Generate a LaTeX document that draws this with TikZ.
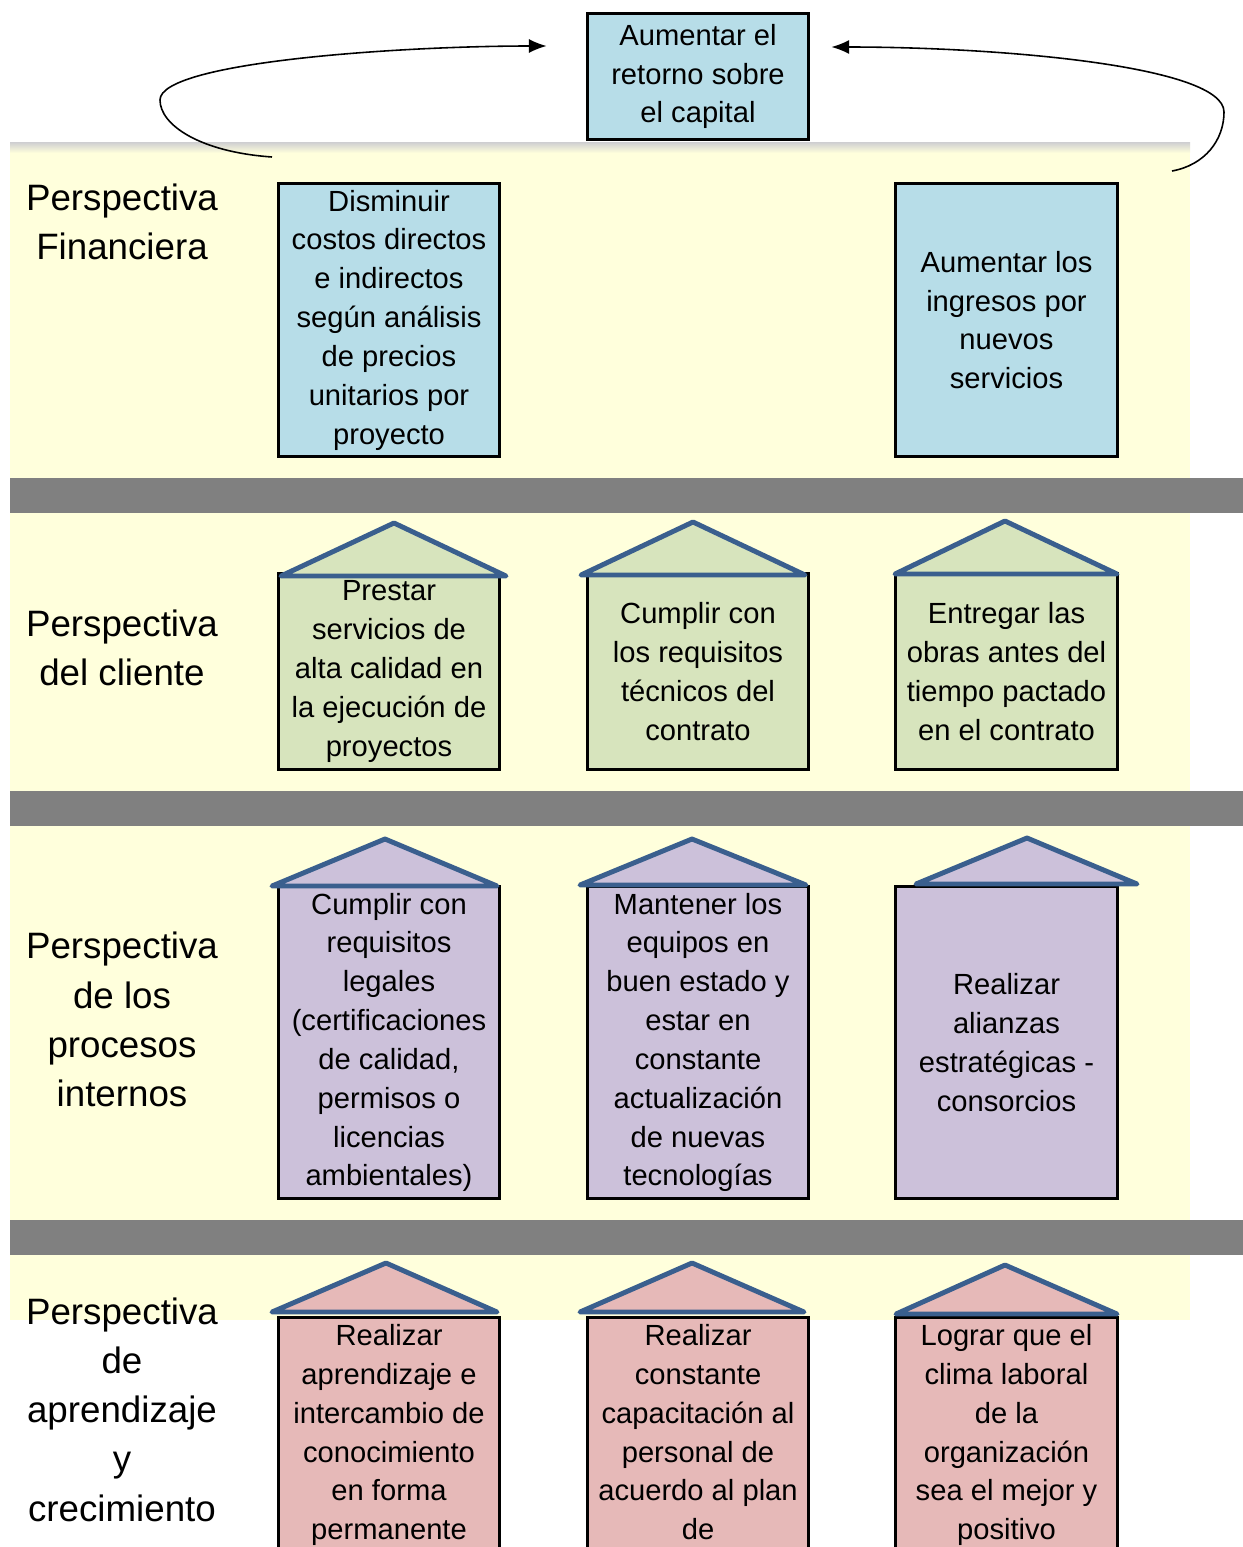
\documentclass[tikz,border=0pt]{standalone}
\usepackage{fontspec}
\setmainfont{Liberation Sans}
\usetikzlibrary{arrows.meta}
\definecolor{finblue}{HTML}{B7DDE8}
\definecolor{cliegreen}{HTML}{D7E4BD}
\definecolor{intpurple}{HTML}{CCC1DA}
\definecolor{aprpink}{HTML}{E6B9B8}
\definecolor{roofblue}{HTML}{3A5F8E}
\definecolor{bgyellow}{HTML}{FFFFDC}
\definecolor{bargray}{HTML}{808080}
\tikzset{
  objbox/.style={draw, line width=1.7pt, minimum width=4.44cm, inner sep=0pt,
    align=center, font=\fontsize{16.6}{22.1}\selectfont},
  roof/.style={draw=roofblue, line width=2.8pt, line join=round, line cap=round},
  persp/.style={align=center, font=\fontsize{20.9}{28}\selectfont},
  flecha/.style={-{Latex[length=10pt,width=8pt]}, line width=0.9pt},
}

\begin{document}
\begin{tikzpicture}[x=0.02cm, y=-0.02cm]
    \clip (0,0) rectangle (1243,1547);
    \fill[white] (0,0) rectangle (1243,1547);
    % fondo y barras
    \fill[bgyellow] (10,145) rectangle (1190,1320);
    \shade[top color=gray!35, bottom color=bgyellow] (10,143) rectangle (1190,153);
    \fill[bargray] (10,478) rectangle (1243,513);
    \fill[bargray] (10,791) rectangle (1243,826);
    \fill[bargray] (10,1220) rectangle (1243,1255);

    \node[objbox, fill=finblue, minimum height=2.54cm] (retorno) at (698,76.5) {Aumentar el\\retorno sobre\\el capital};

    % financiera
    \node[persp] (pfin) at (122,221.5) {Perspectiva\\Financiera};
    \node[objbox, fill=finblue, minimum height=5.48cm] (costos) at (389,320) {Disminuir\\costos directos\\e indirectos\\según análisis\\de precios\\unitarios por\\proyecto};
    \node[objbox, fill=finblue, minimum height=5.48cm] (ingresos) at (1006.5,320) {Aumentar los\\ingresos por\\nuevos\\servicios};

    % cliente
    \node[persp] (pcli) at (122,648) {Perspectiva\\del cliente};
    \node[objbox, fill=cliegreen, minimum height=3.94cm] (prestar) at (389,671.5) {Prestar\\servicios de\\alta calidad en\\la ejecución de\\proyectos};
    \node[objbox, fill=cliegreen, minimum height=3.94cm] (cumplir) at (698,671.5) {Cumplir con\\los requisitos\\técnicos del\\contrato};
    \node[objbox, fill=cliegreen, minimum height=3.94cm] (entregar) at (1006.5,671.5) {Entregar las\\obras antes del\\tiempo pactado\\en el contrato};
    \draw[roof, fill=cliegreen] (281,576) -- (394,523) -- (506,576) -- cycle;
    \draw[roof, fill=cliegreen] (581,575) -- (693,522) -- (805,575) -- cycle;
    \draw[roof, fill=cliegreen] (895,574) -- (1005,521) -- (1117,574) -- cycle;

    % procesos internos
    \node[persp] (pint) at (122,1019.5) {Perspectiva\\de los\\procesos\\internos};
    \node[objbox, fill=intpurple, minimum height=6.26cm] (legales) at (389,1042.5) {Cumplir con\\requisitos\\legales\\(certificaciones\\de calidad,\\permisos o\\licencias\\ambientales)};
    \node[objbox, fill=intpurple, minimum height=6.26cm] (equipos) at (698,1042.5) {Mantener los\\equipos en\\buen estado y\\estar en\\constante\\actualización\\de nuevas\\tecnologías};
    \node[objbox, fill=intpurple, minimum height=6.26cm] (alianzas) at (1006.5,1042.5) {Realizar\\alianzas\\estratégicas -\\consorcios};
    \draw[roof, fill=intpurple] (272,886) -- (385,839) -- (497,886) -- cycle;
    \draw[roof, fill=intpurple] (580,885) -- (692,839) -- (806,885) -- cycle;
    \draw[roof, fill=intpurple] (916,884) -- (1027,838) -- (1137,884) -- cycle;

    % aprendizaje
    \node[persp] (papr) at (122,1409.5) {Perspectiva\\de\\aprendizaje\\y\\crecimiento};
    \node[objbox, fill=aprpink, anchor=north, inner ysep=4pt, text depth=4cm] (aprender) at (389,1316) {Realizar\\aprendizaje e\\intercambio de\\conocimiento\\en forma\\permanente};
    \node[objbox, fill=aprpink, anchor=north, inner ysep=4pt, text depth=4cm] (capacitar) at (698,1316) {Realizar\\constante\\capacitación al\\personal de\\acuerdo al plan\\de};
    \node[objbox, fill=aprpink, anchor=north, inner ysep=4pt, text depth=4cm] (clima) at (1006.5,1316) {Lograr que el\\clima laboral\\de la\\organización\\sea el mejor y\\positivo};
    \draw[roof, fill=aprpink] (272,1312) -- (386,1263) -- (497,1312) -- cycle;
    \draw[roof, fill=aprpink] (580,1312) -- (692,1263) -- (804,1312) -- cycle;
    \draw[roof, fill=aprpink] (896,1314) -- (1005,1265) -- (1117,1314) -- cycle;

    % flechas
    \coordinate (finl) at (272,157);
    \coordinate (finr) at (1172,171);
    \draw[flecha] (finl) .. controls (200,152) and (160,125) .. (160,100) .. controls (160,62) and (400,46) .. ([xshift=-0.78cm, yshift=0.61cm]retorno.west);
    \draw[flecha] (finr) .. controls (1205,165) and (1224,140) .. (1224,112) .. controls (1224,66) and (1000,47) .. ([xshift=0.42cm, yshift=0.59cm]retorno.east);
\end{tikzpicture}
\end{document}
